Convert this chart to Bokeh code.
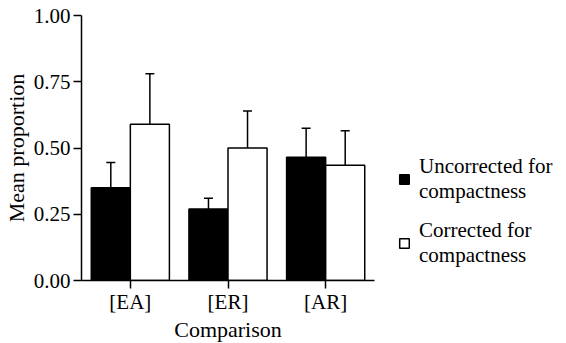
from bokeh.plotting import figure
from bokeh.models import (ColumnDataSource, FactorRange, Range1d, FixedTicker,
                          PrintfTickFormatter, Whisker, TeeHead, Legend, LegendItem)
from bokeh.transform import dodge
from bokeh.embed import file_html
from bokeh.resources import INLINE

# ---- data ----
categories = ["[EA]", "[ER]", "[AR]"]
uncorrected = [0.35, 0.27, 0.465]
uncorrected_err = [0.095, 0.04, 0.11]
corrected = [0.59, 0.50, 0.435]
corrected_err = [0.19, 0.14, 0.13]
y_ticks = [0.0, 0.25, 0.5, 0.75, 1.0]
series_names = ["Uncorrected for\ncompactness", "Corrected for\ncompactness"]

FONT = "Liberation Serif"

src = ColumnDataSource(dict(
    cat=categories,
    unc=uncorrected,
    unc_top=[v + e for v, e in zip(uncorrected, uncorrected_err)],
    cor=corrected,
    cor_top=[v + e for v, e in zip(corrected, corrected_err)],
))

p = figure(frame_width=293, frame_height=265,
           x_range=FactorRange(*categories, range_padding=0),
           y_range=Range1d(0, 1.0), output_backend="svg", toolbar_location=None,
           min_border_left=81, min_border_right=0, min_border_top=15,
           min_border_bottom=63)
p.outline_line_color = None
p.xgrid.grid_line_color = None
p.ygrid.grid_line_color = None
p.background_fill_color = "white"
p.border_fill_color = "white"

bw = 0.4
r1 = p.vbar(x=dodge("cat", -bw / 2, range=p.x_range), top="unc", width=bw, source=src,
            fill_color="black", line_color="black", line_width=1.5)
r2 = p.vbar(x=dodge("cat", bw / 2, range=p.x_range), top="cor", width=bw, source=src,
            fill_color="white", line_color="black", line_width=1.5)

for off, lo, hi in [(-bw / 2, "unc", "unc_top"), (bw / 2, "cor", "cor_top")]:
    w = Whisker(base=dodge("cat", off, range=p.x_range), lower=lo, upper=hi, source=src,
                line_color="black", line_width=1.5,
                upper_head=TeeHead(size=9, line_color="black", line_width=1.5),
                lower_head=None)
    p.add_layout(w)

# axes
for ax in (p.xaxis[0], p.yaxis[0]):
    ax.axis_line_color = "black"
    ax.axis_line_width = 1.5
    ax.major_tick_line_color = "black"
    ax.major_tick_line_width = 1.5
    ax.major_tick_in = 0
    ax.major_tick_out = 8
    ax.minor_tick_line_color = None
    ax.major_label_text_font = FONT
    ax.major_label_text_font_size = "21px"
    ax.major_label_text_color = "black"
    ax.axis_label_text_font = FONT
    ax.axis_label_text_font_size = "22px"
    ax.axis_label_text_font_style = "normal"
    ax.axis_label_text_color = "black"

p.yaxis.ticker = FixedTicker(ticks=y_ticks)
p.yaxis.formatter = PrintfTickFormatter(format="%.2f")
p.yaxis.axis_label = "Mean proportion"
p.yaxis.major_label_standoff = 3
p.yaxis.axis_label_standoff = 2
p.xaxis.axis_label = "Comparison"
p.xaxis.major_label_standoff = 1
p.xaxis.axis_label_standoff = 0

legend = Legend(items=[LegendItem(label=series_names[0], renderers=[r1]),
                       LegendItem(label=series_names[1], renderers=[r2])],
                location=(24, 12), border_line_color=None, background_fill_alpha=0,
                glyph_width=12, glyph_height=12, label_standoff=9, spacing=14,
                padding=0, margin=0, label_text_font=FONT, label_text_font_size="21px",
                label_text_color="black")
p.add_layout(legend, "right")

open("out.html", "w").write(file_html(p, INLINE))
